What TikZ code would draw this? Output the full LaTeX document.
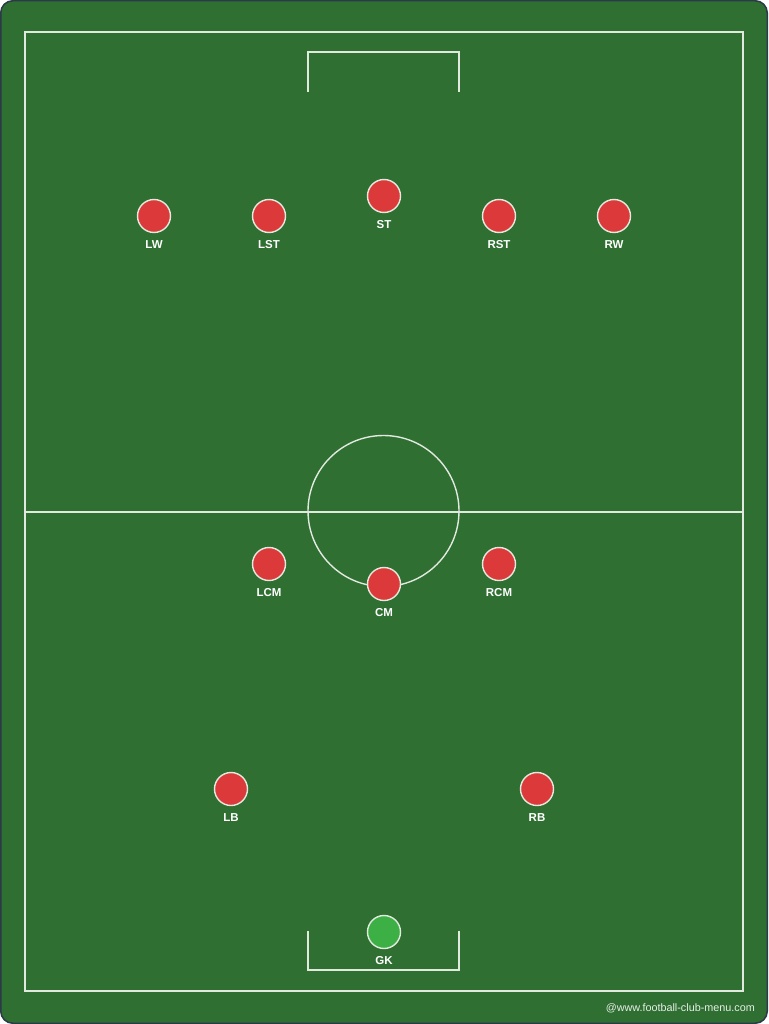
\documentclass[tikz,border=0pt]{standalone}
\usepackage{fontspec}
\setmainfont{Liberation Sans}
\usetikzlibrary{positioning}
\definecolor{pitch}{HTML}{2F6F32}
\definecolor{edge}{HTML}{2C3A48}
\definecolor{chalk}{HTML}{E2EAE0}
\definecolor{shirt}{HTML}{DC3A3A}
\definecolor{keeper}{HTML}{3DB045}
\begin{document}
\begin{tikzpicture}[x=1pt, y=-1pt, node distance=7.5pt, every node/.style={scale=1.0},
    line/.style={draw=chalk, line width=1.4pt},
    player/.style={circle, draw=chalk, line width=1.4pt, fill=shirt, minimum size=33pt, inner sep=0pt},
    lab/.style={text=white, inner sep=0pt, font=\bfseries\fontsize{11.5}{13}\selectfont}]
            \useasboundingbox (0,0) rectangle (768,1024);
            \filldraw[fill=pitch, draw=edge, line width=1.5pt, rounded corners=12pt] (0.75,0.75) rectangle (767.25,1023.25);

            % pitch markings
            \draw[line] (25,32) rectangle (743,991);
            \draw[line] (25,512) -- (743,512);
            \draw[line] (383.5,511) circle[radius=75.5pt];
            \draw[line] (308,92) -- (308,52) -- (459,52) -- (459,92);
            \draw[line] (308,931) -- (308,970) -- (459,970) -- (459,931);

            % forwards
            \node[player] (lw) at (154,216) {};
            \node[player] (lst) at (269,216) {};
            \node[player] (st) at (384,196) {};
            \node[player] (rst) at (499,216) {};
            \node[player] (rw) at (614,216) {};

            % midfield
            \node[player] (lcm) at (269,564) {};
            \node[player] (cm) at (384,584) {};
            \node[player] (rcm) at (499,564) {};

            % defence
            \node[player] (lb) at (231,789) {};
            \node[player] (rb) at (537,789) {};
            \node[player, fill=keeper] (gk) at (384,932) {};

            % names
            \node[lab] (lw_l) [below=of lw] {LW};
            \node[lab] (lst_l) [below=of lst] {LST};
            \node[lab] (st_l) [below=of st] {ST};
            \node[lab] (rst_l) [below=of rst] {RST};
            \node[lab] (rw_l) [below=of rw] {RW};
            \node[lab] (lcm_l) [below=of lcm] {LCM};
            \node[lab] (cm_l) [below=of cm] {CM};
            \node[lab] (rcm_l) [below=of rcm] {RCM};
            \node[lab] (lb_l) [below=of lb] {LB};
            \node[lab] (rb_l) [below=of rb] {RB};
            \node[lab] (gk_l) [below=of gk] {GK};

            \node[anchor=east, inner sep=0pt, text=white!88!pitch, font=\fontsize{10.8}{12}\selectfont] (credit) at (755,1008) {@www.football-club-menu.com};
          \end{tikzpicture}
\end{document}
